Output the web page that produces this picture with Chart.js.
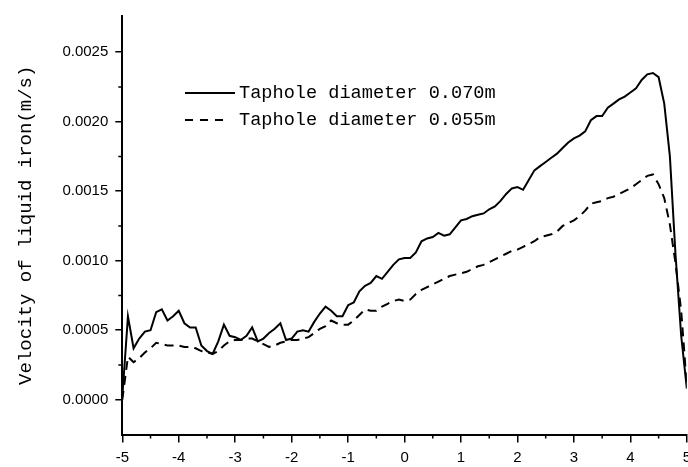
<!DOCTYPE html>
<html><head><meta charset="utf-8">
<script src="https://cdn.jsdelivr.net/npm/chart.js@4/dist/chart.umd.min.js"></script>
<style>
html,body{margin:0;padding:0;background:#fff;overflow:hidden;width:688px;height:467px}
#wrap{position:absolute;left:0;top:0;width:697px;height:467px}
</style>
</head><body><div id="wrap"><canvas id="c" width="697" height="467"></canvas></div>
<script>
const xPositions = [
 -5.0,-4.9,-4.8,-4.7,-4.6,-4.5,-4.4,-4.3,-4.2,-4.1,
 -4.0,-3.9,-3.8,-3.7,-3.6,-3.5,-3.4,-3.3,-3.2,-3.1,
 -3.0,-2.9,-2.8,-2.7,-2.6,-2.5,-2.4,-2.3,-2.2,-2.1,
 -2.0,-1.9,-1.8,-1.7,-1.6,-1.5,-1.4,-1.3,-1.2,-1.1,
 -1.0,-0.9,-0.8,-0.7,-0.6,-0.5,-0.4,-0.3,-0.2,-0.1,
 0.0,0.1,0.2,0.3,0.4,0.5,0.6,0.7,0.8,0.9,
 1.0,1.1,1.2,1.3,1.4,1.5,1.6,1.7,1.8,1.9,
 2.0,2.1,2.2,2.3,2.4,2.5,2.6,2.7,2.8,2.9,
 3.0,3.1,3.2,3.3,3.4,3.5,3.6,3.7,3.8,3.9,
 4.0,4.1,4.2,4.3,4.4,4.5,4.6,4.7,4.8,4.9,
 5.0];

const velocity070 = [
 0.00002,0.00060,0.00037,0.00044,0.00049,0.00050,0.00063,0.00065,0.00057,0.00060,
 0.00064,0.00055,0.00052,0.00052,0.00039,0.00035,0.00033,0.00042,0.00054,0.00046,
 0.00045,0.00043,0.00046,0.00052,0.00042,0.00044,0.00048,0.00051,0.00055,0.00043,
 0.00044,0.00049,0.00050,0.00049,0.00056,0.00062,0.00067,0.00064,0.00060,0.00060,
 0.00068,0.00070,0.00078,0.00082,0.00084,0.00089,0.00087,0.00092,0.00097,0.00101,
 0.00102,0.00102,0.00106,0.00114,0.00116,0.00117,0.00120,0.00118,0.00119,0.00124,
 0.00129,0.00130,0.00132,0.00133,0.00134,0.00137,0.00139,0.00143,0.00148,0.00152,
 0.00153,0.00151,0.00158,0.00165,0.00168,0.00171,0.00174,0.00177,0.00181,0.00185,
 0.00188,0.00190,0.00193,0.00201,0.00204,0.00204,0.00210,0.00213,0.00216,0.00218,
 0.00221,0.00224,0.00230,0.00234,0.00235,0.00232,0.00213,0.00175,0.00104,0.00046,
 0.00008];

const velocity055 = [
 0.00000,0.00031,0.00027,0.00030,0.00034,0.00037,0.00041,0.00040,0.00039,0.00039,
 0.00039,0.00038,0.00038,0.00037,0.00035,0.00034,0.00033,0.00035,0.00039,0.00042,
 0.00043,0.00043,0.00044,0.00044,0.00042,0.00040,0.00038,0.00039,0.00041,0.00042,
 0.00043,0.00043,0.00044,0.00045,0.00048,0.00051,0.00053,0.00057,0.00055,0.00054,
 0.00054,0.00057,0.00061,0.00065,0.00064,0.00064,0.00067,0.00069,0.00071,0.00072,
 0.00071,0.00072,0.00076,0.00079,0.00081,0.00083,0.00085,0.00087,0.00089,0.00090,
 0.00091,0.00092,0.00094,0.00096,0.00097,0.00099,0.00101,0.00103,0.00105,0.00107,
 0.00108,0.00110,0.00112,0.00114,0.00117,0.00118,0.00119,0.00121,0.00125,0.00127,
 0.00129,0.00132,0.00136,0.00141,0.00142,0.00143,0.00145,0.00146,0.00148,0.00150,
 0.00152,0.00155,0.00158,0.00161,0.00162,0.00155,0.00145,0.00126,0.00098,0.00064,
 0.00010];

const seriesLabels = ['Taphole diameter 0.070m', 'Taphole diameter 0.055m'];
const yAxisTitle = 'Velocity of liquid iron(m/s)';
const xMinorTicks = [-4.5,-3.5,-2.5,-1.5,-0.5,0.5,1.5,2.5,3.5,4.5];
const yMinorTicks = [0.00025,0.00075,0.00125,0.00175,0.00225];

const pts = ys => xPositions.map((x, i) => ({x: x, y: ys[i]}));

const minorTicksAndLegend = {
  id: 'minorTicksAndLegend',
  afterDraw(chart) {
    const ctx = chart.ctx;
    const xs = chart.scales.x, ys = chart.scales.y;
    ctx.save();
    ctx.strokeStyle = '#000';
    ctx.lineWidth = 1.5;
    ctx.beginPath();
    xMinorTicks.forEach(v => {
      const px = xs.getPixelForValue(v);
      ctx.moveTo(px, xs.top); ctx.lineTo(px, xs.top + 4);
    });
    yMinorTicks.forEach(v => {
      const py = ys.getPixelForValue(v);
      ctx.moveTo(ys.right, py); ctx.lineTo(ys.right - 4, py);
    });
    ctx.stroke();
    // legend
    const rows = [93, 120];
    chart.data.datasets.forEach((ds, i) => {
      const y = rows[i];
      ctx.lineWidth = 2;
      ctx.setLineDash(i === 0 ? [] : [8, 7]);
      ctx.beginPath();
      ctx.moveTo(185, y); ctx.lineTo(i === 0 ? 235 : 223, y);
      ctx.stroke();
      ctx.setLineDash([]);
      ctx.fillStyle = '#000';
      ctx.font = '18.6px "Liberation Mono"';
      ctx.textBaseline = 'middle';
      ctx.textAlign = 'left';
      ctx.fillText(ds.label, 239, y);
    });
    ctx.restore();
  }
};

new Chart(document.getElementById('c'), {
  type: 'line',
  data: {
    datasets: [
      {label: seriesLabels[0], data: pts(velocity070), borderColor: '#000', borderWidth: 2,
       pointRadius: 0, tension: 0, fill: false},
      {label: seriesLabels[1], data: pts(velocity055), borderColor: '#000', borderWidth: 2,
       borderDash: [9, 6], pointRadius: 0, tension: 0, fill: false}
    ]
  },
  options: {
    responsive: false,
    animation: false,
    devicePixelRatio: 1,
    layout: {padding: {left: 0, top: 13, right: 7.5, bottom: 0}},
    plugins: {legend: {display: false}, tooltip: {enabled: false}},
    scales: {
      x: {
        type: 'linear', min: -5, max: 5,
        afterFit: s => { s.height = 32.5; },
        border: {display: true, color: '#000', width: 2},
        grid: {drawOnChartArea: false, drawTicks: true, tickLength: 8, color: '#000', lineWidth: 1.5},
        ticks: {stepSize: 1, autoSkip: false, maxRotation: 0, color: '#000', padding: 6,
                font: {family: '"Liberation Sans", Arial', size: 15}}
      },
      y: {
        type: 'linear', min: -0.00025, max: 0.00276,
        afterFit: s => { s.width = 122.3; },
        border: {display: true, color: '#000', width: 2},
        grid: {drawOnChartArea: false, drawTicks: true, tickLength: 7, color: '#000', lineWidth: 1.5},
        ticks: {stepSize: 0.0005, includeBounds: false, color: '#000', padding: 7,
                font: {family: '"Liberation Sans", Arial', size: 15},
                callback: v => v.toFixed(4)},
        title: {display: true, text: yAxisTitle, color: '#000', padding: {top: 15, bottom: 0},
                font: {family: '"Liberation Mono"', size: 19, weight: 'normal'}}
      }
    }
  },
  plugins: [minorTicksAndLegend]
});
</script>
</body></html>
